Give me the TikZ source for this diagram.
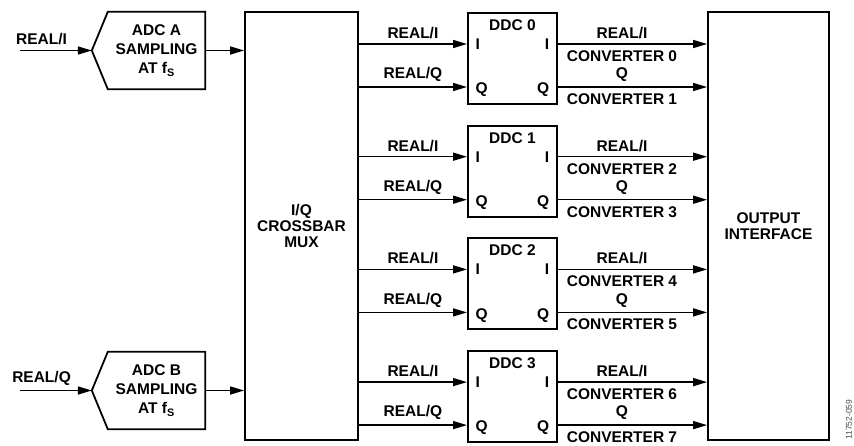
\documentclass[tikz,border=0pt]{standalone}
\usepackage{fontspec}
\setmainfont{Liberation Sans}
\usetikzlibrary{positioning, arrows.meta}

\begin{document}
\begin{tikzpicture}[
  x=1pt, y=-1pt,
  font=\fontsize{15.5}{16}\selectfont\bfseries,
  blk/.style={draw, line width=1.8pt, inner sep=0pt, align=center},
  adcbody/.style={inner sep=0pt, minimum width=97pt, minimum height=77pt, align=center,
    font=\fontsize{15.5}{19}\selectfont\bfseries},
  ddc/.style={blk, minimum width=89pt, minimum height=91pt},
  sig/.style={line width=1.5pt, -{Triangle[length=14pt,width=8pt]}},
  lbl/.style={inner sep=1.5pt}
]
  \useasboundingbox (0,0) rectangle (854,445);

  % ADC blocks (pointed on the input side)
  \node[adcbody] (adcA) at (156.5,50.5) {ADC A\\SAMPLING\\AT f\textsubscript{S}};
  \node[adcbody] (adcB) at (156.5,390.5) {ADC B\\SAMPLING\\AT f\textsubscript{S}};
  \foreach \a in {adcA,adcB} {
    \coordinate (\a tip) at ([xshift=-16pt]\a.west);
    \draw[line width=1.8pt, line join=miter] (\a.north west) -- (\a.north east) -- (\a.south east)
      -- (\a.south west) -- (\a tip) -- cycle;
  }

  % crossbar and output interface
  \node[blk, minimum width=113pt, minimum height=428pt] (xbar) at (301.5,226) {I/Q\\CROSSBAR\\MUX};
  \node[blk, minimum width=121pt, minimum height=428pt] (outif) at (768.5,226) {OUTPUT\\INTERFACE};

  % inputs
  \coordinate (inA) at (20,50.5);
  \coordinate (inB) at (20,390.5);
  \draw[sig] (inA) -- (adcAtip) node[lbl, pos=0.3, above=3pt] {REAL/I};
  \draw[sig] (inB) -- (adcBtip) node[lbl, pos=0.3, above=3pt] {REAL/Q};
  \draw[sig] (adcA.east) -- (xbar.west |- adcA.east);
  \draw[sig] (adcB.east) -- (xbar.west |- adcB.east);

  % DDC blocks
  \foreach \k in {0,...,3} {
    \pgfmathsetmacro\ddctop{12+112.7*\k}
    \pgfmathtruncatemacro\cvi{2*\k}
    \pgfmathtruncatemacro\cvq{2*\k+1}
    \node[ddc, anchor=north west] (ddc\k) at (467,\ddctop) {};
    \node[lbl, below=6pt of ddc\k.north] {DDC \k};
    \coordinate (ii\k) at ([yshift=-32pt]ddc\k.north west);
    \coordinate (qi\k) at ([yshift=-75pt]ddc\k.north west);
    \coordinate (io\k) at ([yshift=-32pt]ddc\k.north east);
    \coordinate (qo\k) at ([yshift=-75pt]ddc\k.north east);
    \node[lbl, anchor=west] at ([xshift=7pt]ii\k) {I};
    \node[lbl, anchor=east] at ([xshift=-7pt]io\k) {I};
    \node[lbl, anchor=west] at ([xshift=7pt,yshift=-3pt]qi\k) {Q};
    \node[lbl, anchor=east] at ([xshift=-7pt,yshift=-3pt]qo\k) {Q};
    \draw[sig] (xbar.east |- ii\k) -- (ii\k) node[lbl, midway, above=3pt] {REAL/I};
    \draw[sig] (xbar.east |- qi\k) -- (qi\k) node[lbl, midway, above=3pt] {REAL/Q};
    \draw[sig] (io\k) -- (outif.west |- io\k)
      node[lbl, pos=0.43, above=3pt] {REAL/I}
      node[lbl, pos=0.43, below=4.5pt] {CONVERTER \cvi};
    \draw[sig] (qo\k) -- (outif.west |- qo\k)
      node[lbl, pos=0.43, above=3pt] {Q}
      node[lbl, pos=0.43, below=4.5pt] {CONVERTER \cvq};
  }

  % figure number
  \node[rotate=90, anchor=west, inner sep=0pt, text=black!70,
    font=\fontsize{8.5}{9}\selectfont] (fignum) at (849,440) {11752-059};
\end{tikzpicture}
\end{document}
